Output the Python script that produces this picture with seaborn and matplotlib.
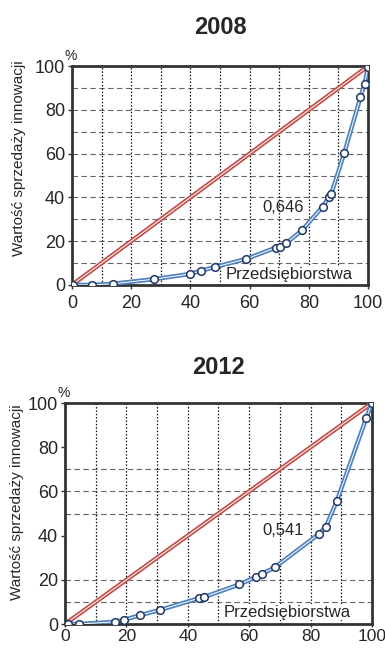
import matplotlib
matplotlib.use('Agg')
import matplotlib.pyplot as plt
import seaborn as sns
import pandas as pd

# dane: krzywe Lorenza (skumulowany % przedsiębiorstw vs % wartości sprzedaży innowacji)
x_2008 = [0.5, 6.8, 13.7, 27.6, 39.8, 43.7, 48.4, 58.9, 68.8, 70.4, 72.3, 77.7,
          84.7, 86.7, 87.5, 92.0, 97.4, 98.8, 100.0]
y_2008 = [0.0, 0.0, 0.5, 2.6, 5.0, 6.5, 8.2, 11.9, 17.0, 17.5, 19.0, 25.0,
          35.8, 40.0, 41.4, 60.4, 85.7, 91.8, 99.7]

x_2012 = [0.5, 1.1, 4.6, 16.3, 19.2, 24.5, 31.0, 43.5, 45.3, 56.8, 62.3, 64.1,
          68.3, 82.6, 85.0, 88.6, 98.2, 100.0]
y_2012 = [0.0, 0.0, 0.0, 1.0, 1.9, 4.0, 6.4, 11.6, 12.2, 17.9, 21.3, 22.6,
          25.6, 40.6, 44.0, 55.8, 93.3, 100.0]

equal_x = [0, 100]
equal_y = [0, 100]

gini = {'2008': '0,646', '2012': '0,541'}
ticks = [0, 20, 40, 60, 80, 100]
hgrid = {'2008': [10, 20, 30, 40, 50, 60, 70, 80, 90],
         '2012': [10, 20, 50, 60, 70]}
vgrid = [10, 20, 30, 40, 50, 60, 70, 80, 90]

sns.set_theme(style="white")
plt.rcParams['font.family'] = ['Liberation Sans', 'DejaVu Sans']

fig = plt.figure(figsize=(3.85, 6.49), dpi=100)
axes = {
    '2008': fig.add_axes([0.187, 0.561, 0.769, 0.337]),
    '2012': fig.add_axes([0.169, 0.0385, 0.797, 0.3405]),
}
series = {'2008': (x_2008, y_2008), '2012': (x_2012, y_2012)}
title_pad = {'2008': 23, '2012': 21}
text_y = {'2008': (35.5, 4.8), '2012': (42.5, 5.4)}
ylabel_pos = {'2008': (-0.155, 0.58), '2012': (-0.135, 0.55)}

red = '#c0504d'
blue = '#4f81bd'

for year, ax in axes.items():
    xs, ys = series[year]
    df = pd.DataFrame({'x': xs, 'y': ys})
    eq = pd.DataFrame({'x': equal_x, 'y': equal_y})

    # siatka
    for g in hgrid[year]:
        ax.axhline(g, color='#666666', lw=0.8, ls=(0, (5, 3)), zorder=1)
    for g in vgrid:
        ax.axvline(g, color='#111111', lw=0.9, ls=(0, (1.2, 1.5)), zorder=1)

    # linia równomiernego rozkładu
    sns.lineplot(data=eq, x='x', y='y', ax=ax, color=red, lw=3.2, sort=False,
                 marker='s', markersize=5, markeredgewidth=0, zorder=3)
    sns.lineplot(data=eq, x='x', y='y', ax=ax, color='white', lw=0.7, sort=False, zorder=3)

    # krzywa Lorenza
    sns.lineplot(data=df, x='x', y='y', ax=ax, color=blue, lw=3.2, sort=False, zorder=4)
    sns.lineplot(data=df, x='x', y='y', ax=ax, color='white', lw=0.7, sort=False, zorder=4)
    sns.lineplot(data=df, x='x', y='y', ax=ax, color=blue, lw=0, sort=False,
                 marker='o', markersize=5.5, markerfacecolor='white',
                 markeredgecolor='#1f3864', markeredgewidth=1.1, zorder=5)

    ax.set_xlim(0, 100)
    ax.set_ylim(0, 100)
    ax.set_xticks(ticks)
    ax.set_yticks(ticks)
    ax.tick_params(axis='y', labelsize=13, length=3, width=1, direction='out',
                   color='#333333', pad=2, left=True)
    if year == '2008':
        ax.tick_params(axis='x', labelsize=13, length=3, width=1, direction='out',
                       color='#333333', pad=4, bottom=True)
    else:
        ax.tick_params(axis='x', labelsize=12.5, length=2, width=1, direction='out',
                       color='#333333', pad=1.5, bottom=True)
    for s in ax.spines.values():
        s.set_color('#333333')
        s.set_linewidth(2)
    ax.set_xlabel('')
    ax.set_ylabel('Wartość sprzedaży innowacji', fontsize=11)
    ax.yaxis.set_label_coords(*ylabel_pos[year])
    ax.set_title(year, fontsize=17, fontweight='bold', pad=title_pad[year])

    ax.text(64.3, text_y[year][0], gini[year], fontsize=12,
            va='center', ha='left', zorder=6)
    ax.text(51.8, text_y[year][1], 'Przedsiębiorstwa', fontsize=12,
            va='center', ha='left', zorder=6,
            bbox=dict(facecolor='white', edgecolor='none', pad=0.5))
    ax.text(-0.025, 1.015, '%', transform=ax.transAxes, fontsize=10,
            ha='left', va='bottom')

fig.savefig('out.png', dpi=100)
plt.close()
